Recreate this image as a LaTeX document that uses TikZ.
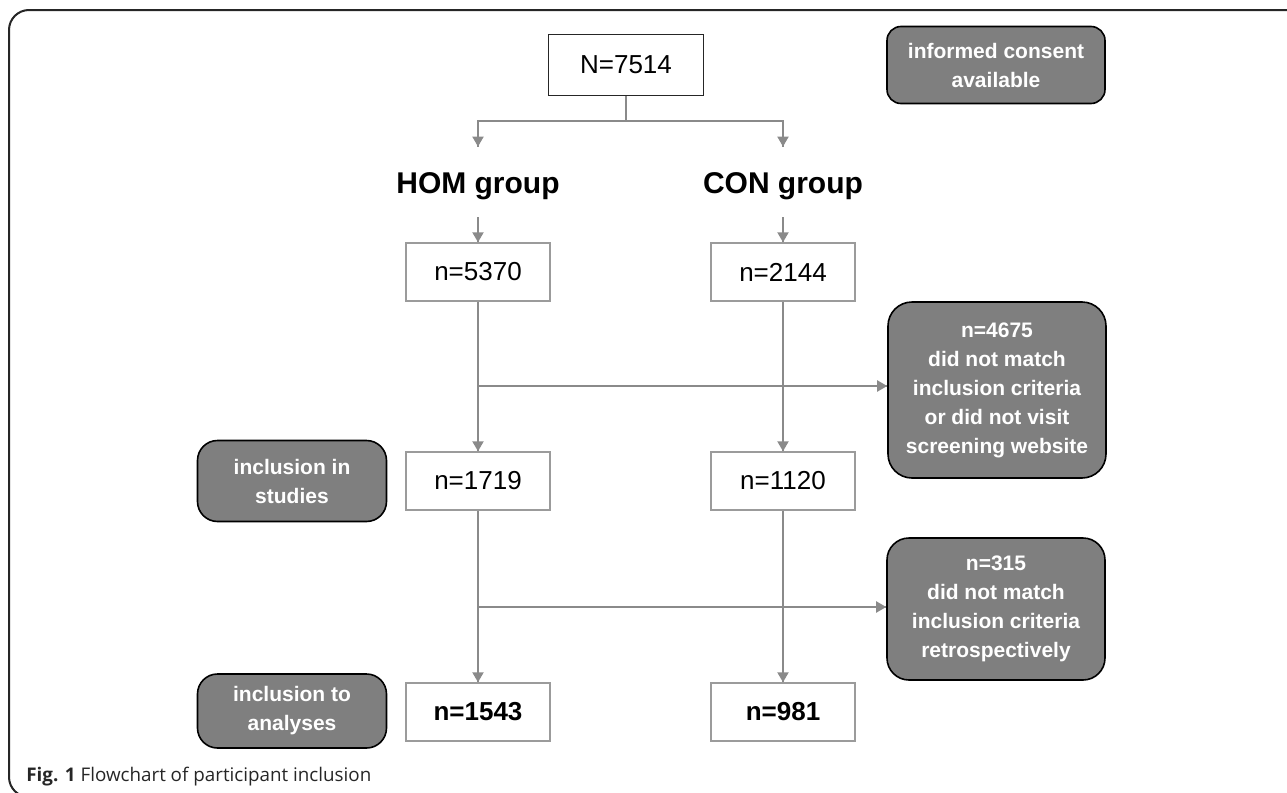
\documentclass[tikz,border=0pt]{standalone}
\usepackage{fontspec}
\setmainfont{Liberation Sans}
\newfontfamily\capfont{Open Sans}
\usetikzlibrary{arrows.meta}
\usetikzlibrary{decorations.markings}
\definecolor{linegray}{HTML}{8A8A8A}
\definecolor{boxgray}{HTML}{9B9B9B}
\definecolor{notegray}{HTML}{7F7F7F}
\tikzset{->/.style = {decoration={markings,
                                  mark=at position 1 with {\arrow{Triangle[width=5.5pt,length=5pt]}}},
                      postaction={decorate}}}
\tikzset{conn/.style = {color=linegray, line width=1pt}}
\tikzset{countbox/.style = {draw=boxgray, line width=0.7pt, fill=white, minimum width=72pt,
                            minimum height=29pt, font=\fontsize{13}{15}\selectfont}}
\tikzset{notebox/.style = {draw=black, fill=notegray, line width=0.8pt, rounded corners=9pt,
                           text=white, align=center, inner sep=0,
                           font=\fontsize{10.5}{14.5}\selectfont\bfseries}}
\tikzset{grouplabel/.style = {inner sep=0, text height=23pt, text depth=12pt, anchor=base,
                              font=\fontsize{15}{18}\selectfont\bfseries}}

\begin{document}
\begin{tikzpicture}[x=0.5pt, y=-0.5pt]
    \useasboundingbox (0,0) rectangle (1287,793);
    \draw [line width=1pt, black!85, rounded corners=10pt] (1290,10) -- (9,10) -- (9,797) -- (40,797);

    \node [countbox, draw=black!85, line width=0.9pt, minimum width=77.5pt, minimum height=30.5pt] (total) at (626,65) {N=7514};
    \node [notebox, rounded corners=7pt, minimum width=109pt, minimum height=38.5pt] (consent) at (996,65) {informed consent\\available};

    \node [grouplabel] (hom) at (478,193) {HOM group};
    \node [grouplabel] (con) at (783,193) {CON group};

    \node [countbox] (hom1) at (478,272) {n=5370};
    \node [countbox] (con1) at (783,272) {n=2144};
    \node [countbox] (hom2) at (478,481) {n=1719};
    \node [countbox] (con2) at (783,481) {n=1120};
    \node [countbox, font=\fontsize{13}{15}\selectfont\bfseries] (hom3) at (478,712) {n=1543};
    \node [countbox, font=\fontsize{13}{15}\selectfont\bfseries] (con3) at (783,712) {n=981};

    \node [notebox, rounded corners=12pt, minimum width=109pt, minimum height=88pt] (drop1) at (997,390)
        {n=4675\\did not match\\inclusion criteria\\or did not visit\\screening website};
    \node [notebox, rounded corners=11pt, minimum width=109pt, minimum height=71pt] (drop2) at (996,609)
        {n=315\\did not match\\inclusion criteria\\retrospectively};

    \node [notebox, rounded corners=10pt, minimum width=94.5pt, minimum height=40.5pt] (studies) at (292,481) {inclusion in\\studies};
    \node [notebox, rounded corners=10pt, minimum width=94.5pt, minimum height=37pt] (analyses) at (292,711) {inclusion to\\analyses};

    \coordinate (fork) at (626,121);
    \coordinate (cut1) at (478,386);
    \coordinate (cut2) at (478,607);

    \draw [conn] (total) -- (fork);
    \draw [conn, ->] (fork) -| (hom);
    \draw [conn, ->] (fork) -| (con);
    \draw [conn, ->] (hom) -- (hom1);
    \draw [conn, ->] (con) -- (con1);
    \draw [conn, ->] (hom1) -- (hom2);
    \draw [conn, ->] (con1) -- (con2);
    \draw [conn, ->] (hom2) -- (hom3);
    \draw [conn, ->] (con2) -- (con3);
    \draw [conn, ->] (cut1) -- (cut1 -| drop1.west);
    \draw [conn, ->] (cut2) -- (cut2 -| drop2.west);

    \node [anchor=base west, inner sep=0, text=black!85, font=\capfont\fontsize{9.4}{11}\selectfont] (caption) at (26,781)
        {\textbf{Fig. 1} Flowchart of participant inclusion};
  \end{tikzpicture}
\end{document}
